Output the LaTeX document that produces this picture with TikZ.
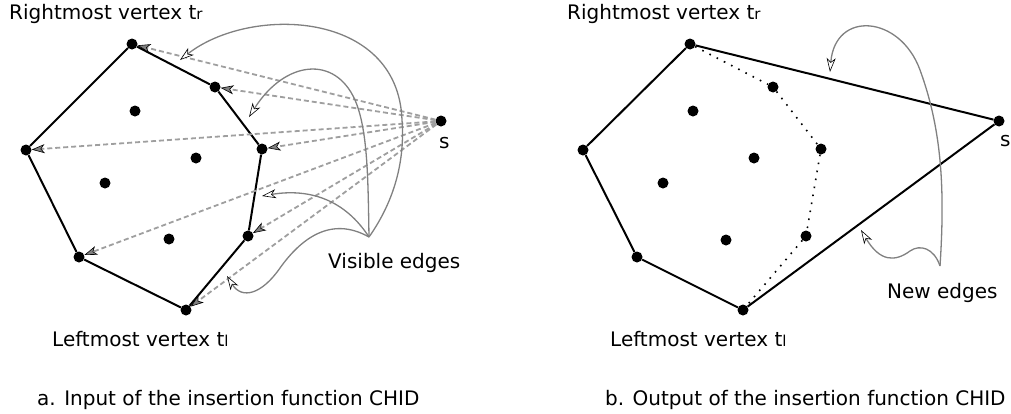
\documentclass[tikz,border=0pt]{standalone}
\usepackage{fontspec}
\setmainfont{DejaVu Sans}
\usetikzlibrary{arrows.meta}
\newcommand\lowsub[1]{\raisebox{-0.5pt}{\fontsize{15}{15}\selectfont #1}}
\begin{document}
\begin{tikzpicture}[x=1pt,y=-1pt,
	dot/.style={circle,fill,inner sep=0,minimum size=11pt},
	lbl/.style={font=\fontsize{20}{24}\selectfont,inner sep=0,anchor=base west},
	hull/.style={line width=2pt,line join=round},
	ray/.style={draw=gray!75,line width=1.8pt,dash pattern=on 5pt off 3pt,
		-{Stealth[length=13pt,width=9pt,inset=3.5pt,color=black,fill=gray,line width=0.6pt]}},
	hint/.style={draw=gray,line width=1.3pt,
		-{Stealth[length=14pt,width=9pt,inset=4pt,color=black,fill=white,line width=0.6pt]}}]
\useasboundingbox (0,0) rectangle (1011,413);
% a. input
\node[dot] (tr) at (132,44) {};
\node[dot] (b) at (215,87) {};
\node[dot] (c) at (262,149) {};
\node[dot] (d) at (248,236) {};
\node[dot] (tl) at (186,310) {};
\node[dot] (f) at (79,257) {};
\node[dot] (g) at (26,150) {};
\node[dot] (in1) at (135,111) {};
\node[dot] (in2) at (196,158) {};
\node[dot] (in3) at (105,183) {};
\node[dot] (in4) at (169,239) {};
\node[dot] (s) at (441,121) {};
\draw[hull] (tr) -- (b) -- (c) -- (d) -- (tl) -- (f) -- (g) -- (tr);
\foreach \v in {tr,b,c,g,f,d,tl}
	\draw[ray] (s) -- (\v);
\node[lbl] (rmA) at (9,19) {Rightmost vertex t\lowsub{r}};
\node[lbl] (lmA) at (52,346) {Leftmost vertex t\lowsub{l}};
\node[lbl] (sA) at (439,148) {s};
\node[lbl] (visible) at (328,268) {Visible edges};
\node[lbl] (capA) at (37,405) {a. Input of the insertion function CHID};
\coordinate (hub) at (369,237);
\coordinate (e1) at (180,60);
\coordinate (e2) at (249,117);
\coordinate (e3) at (262,196);
\coordinate (e4) at (227,276);
\draw[hint] (hub) .. controls (395,200) and (405,160) .. (402,120)
	.. controls (398,10) and (250,5) .. (e1);
\draw[hint] (hub) .. controls (368,180) and (368,130) .. (355,100)
	.. controls (335,55) and (285,60) .. (e2);
\draw[hint] (hub) .. controls (345,200) and (310,188) .. (e3);
\draw[hint] (hub) .. controls (330,215) and (300,240) .. (280,268)
	.. controls (262,294) and (242,300) .. (e4);
% b. output
\node[dot] (tr2) at (690,44) {};
\node[dot] (p1) at (773,87) {};
\node[dot] (p2) at (821,149) {};
\node[dot] (p3) at (806,236) {};
\node[dot] (tl2) at (743,310) {};
\node[dot] (f2) at (637,257) {};
\node[dot] (g2) at (583,150) {};
\node[dot] (jn1) at (693,111) {};
\node[dot] (jn2) at (754,158) {};
\node[dot] (jn3) at (663,183) {};
\node[dot] (jn4) at (726,240) {};
\node[dot] (s2) at (999,121) {};
\draw[hull] (tr2) -- (s2) -- (tl2) -- (f2) -- (g2) -- (tr2);
\draw[line width=1.6pt,dash pattern=on 1.6pt off 6.5pt] (tr2) -- (p1) -- (p2) -- (p3) -- (tl2);
\node[lbl] (rmB) at (567,19) {Rightmost vertex t\lowsub{r}};
\node[lbl] (lmB) at (610,346) {Leftmost vertex t\lowsub{l}};
\node[lbl] (sB) at (1000,146) {s};
\node[lbl] (newedges) at (887,298) {New edges};
\node[lbl] (capB) at (605,405) {b. Output of the insertion function CHID};
\coordinate (hub2) at (940,266);
\coordinate (n1) at (830,72);
\coordinate (n2) at (861,230);
\draw[hint] (hub2) .. controls (945,190) and (942,130) .. (920,70)
	.. controls (900,15) and (835,10) .. (n1);
\draw[hint] (hub2) .. controls (934,248) and (920,244) .. (910,251)
	.. controls (895,262) and (880,262) .. (n2);
\end{tikzpicture}
\end{document}
